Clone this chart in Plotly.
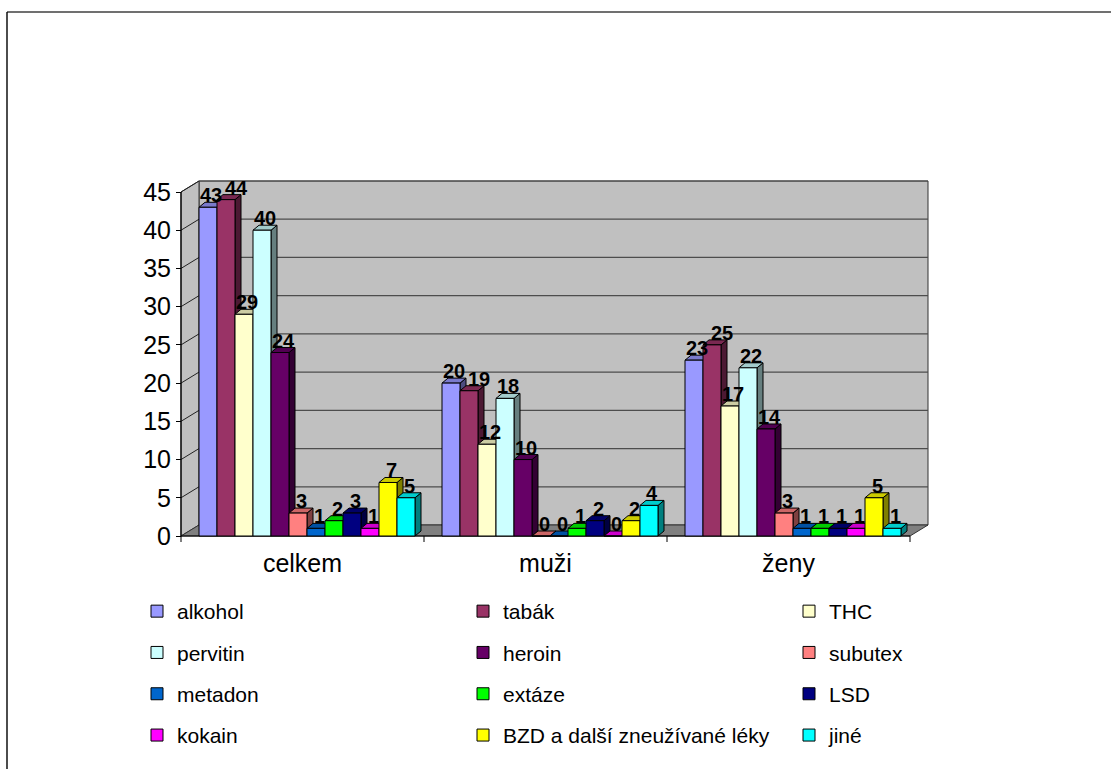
import plotly.graph_objects as go

# ---- data -------------------------------------------------------------
CATEGORIES = ["celkem", "muži", "ženy"]
SUBSTANCES = ["alkohol", "tabák", "THC", "pervitin", "heroin", "subutex",
              "metadon", "extáze", "LSD", "kokain",
              "BZD a další zneužívané léky", "jiné"]
CELKEM = [43, 44, 29, 40, 24, 3, 1, 2, 3, 1, 7, 5]
MUZI = [20, 19, 12, 18, 10, 0, 0, 1, 2, 0, 2, 4]
ZENY = [23, 25, 17, 22, 14, 3, 1, 1, 1, 1, 5, 1]
Y_TICKS = [0, 5, 10, 15, 20, 25, 30, 35, 40, 45]

COLORS = ["#9999FF", "#993366", "#FFFFCC", "#CCFFFF", "#660066", "#FF8080",
          "#0066CC", "#00FF00", "#000080", "#FF00FF", "#FFFF00", "#00FFFF"]

FONT = "Liberation Sans, Arial, sans-serif"

# ---- geometry of the pseudo-3D frame (pixels) --------------------------
W, H = 1111, 769
FRONT_L, FRONT_R = 181, 910      # front edge of the floor
Y0_PX, YMAX_PX = 536, 192        # front plane: value 0 and value 45
Y_MAX = 45
PLOT_L, PLOT_R, PLOT_T, PLOT_B = 166, 936, 174, 546
WALL_DX, WALL_DY = 18, 11        # depth of the back wall
BAR_DX, BAR_DY = 6, 5            # depth of a column
BAR_START_PX = 18                # gap from category start to the first column
BAR_W_PX = 18

LABEL_SIZE = 20
LABEL_DX, LABEL_DY = 3, 12       # default label offset from the column top
DIGIT_W = 11                     # approx. width of one bold digit

PX_X = (FRONT_R - FRONT_L) / len(CATEGORIES)
PX_Y = (Y0_PX - YMAX_PX) / Y_MAX
X_RANGE = [-0.5 - (FRONT_L - PLOT_L) / PX_X, len(CATEGORIES) - 0.5 + (PLOT_R - FRONT_R) / PX_X]
Y_RANGE = [-(PLOT_B - Y0_PX) / PX_Y, Y_MAX + (YMAX_PX - PLOT_T) / PX_Y]
PLOT_W = PLOT_R - PLOT_L
PLOT_H = PLOT_B - PLOT_T

wdx, wdy = WALL_DX / PX_X, WALL_DY / PX_Y
bdx, bdy = BAR_DX / PX_X, BAR_DY / PX_Y
bar_w = BAR_W_PX / PX_X
bar_start = -0.5 + BAR_START_PX / PX_X
x_lo, x_hi = -0.5, len(CATEGORIES) - 0.5


def paper_x(px):
    return (px - PLOT_L) / PLOT_W


def paper_y(py):
    return (PLOT_B - py) / PLOT_H


def shade(hex_color, f):
    r, g, b = (int(hex_color[i:i + 2], 16) for i in (1, 3, 5))
    return "#%02X%02X%02X" % (int(r * f), int(g * f), int(b * f))


shapes = []
# back wall with grid lines
shapes.append(dict(type="rect", xref="x", yref="y", layer="below",
                   x0=x_lo + wdx, x1=x_hi + wdx, y0=wdy, y1=Y_MAX + wdy,
                   fillcolor="#C0C0C0", line=dict(color="#333333", width=1)))
for v in Y_TICKS[1:]:
    shapes.append(dict(type="line", xref="x", yref="y", layer="below",
                       x0=x_lo + wdx, x1=x_hi + wdx, y0=v + wdy, y1=v + wdy,
                       line=dict(color="#4D4D4D", width=1.2)))
# side wall with its diagonal grid lines
shapes.append(dict(type="path", xref="x", yref="y", layer="below",
                   path=f"M{x_lo},0 L{x_lo},{Y_MAX} L{x_lo + wdx},{Y_MAX + wdy} L{x_lo + wdx},{wdy} Z",
                   fillcolor="#C0C0C0", line=dict(color="#333333", width=1)))
for v in Y_TICKS[1:]:
    shapes.append(dict(type="line", xref="x", yref="y", layer="below",
                       x0=x_lo, x1=x_lo + wdx, y0=v, y1=v + wdy,
                       line=dict(color="#222222", width=1)))
# floor
shapes.append(dict(type="path", xref="x", yref="y", layer="below",
                   path=f"M{x_lo},0 L{x_hi},0 L{x_hi + wdx},{wdy} L{x_lo + wdx},{wdy} Z",
                   fillcolor="#808080", line=dict(color="#333333", width=1)))
# front axis lines and category ticks
shapes.append(dict(type="line", xref="x", yref="y", layer="below",
                   x0=x_lo, x1=x_lo, y0=0, y1=Y_MAX, line=dict(color="black", width=1.2)))
shapes.append(dict(type="line", xref="x", yref="y", layer="below",
                   x0=x_lo, x1=x_hi, y0=0, y1=0, line=dict(color="black", width=1.2)))
for k in range(len(CATEGORIES) + 1):
    shapes.append(dict(type="line", xref="x", yref="y", layer="below",
                       x0=x_lo + k, x1=x_lo + k, y0=0, y1=-6 / PX_Y,
                       line=dict(color="black", width=1)))

series_by_cat = [CELKEM, MUZI, ZENY]

# column side and top faces, left to right so nearer faces overlap correctly
for c, values in enumerate(series_by_cat):
    for i, v in enumerate(values):
        xl = c + bar_start + i * bar_w
        xr = xl + bar_w
        col = COLORS[i]
        shapes.append(dict(type="path", xref="x", yref="y", layer="below",
                           path=f"M{xr},0 L{xr + bdx},{bdy} L{xr + bdx},{v + bdy} L{xr},{v} Z",
                           fillcolor=shade(col, 0.5), line=dict(color="black", width=1)))
        shapes.append(dict(type="path", xref="x", yref="y", layer="below",
                           path=f"M{xl},{v} L{xr},{v} L{xr + bdx},{v + bdy} L{xl + bdx},{v + bdy} Z",
                           fillcolor=shade(col, 0.8), line=dict(color="black", width=1)))

# outer chart frame
shapes.append(dict(type="line", xref="paper", yref="paper", layer="above",
                   x0=paper_x(7), x1=paper_x(W), y0=paper_y(12), y1=paper_y(12),
                   line=dict(color="#404040", width=1.6)))
shapes.append(dict(type="line", xref="paper", yref="paper", layer="above",
                   x0=paper_x(7), x1=paper_x(7), y0=paper_y(12), y1=paper_y(H + 5),
                   line=dict(color="black", width=1.4)))

fig = go.Figure()
legend_names = ["legend", "legend2", "legend3"]
for i, name in enumerate(SUBSTANCES):
    fig.add_trace(go.Bar(
        x=list(range(len(CATEGORIES))),
        y=[vals[i] for vals in series_by_cat],
        name=name,
        width=bar_w,
        offset=bar_start + i * bar_w,
        marker=dict(color=COLORS[i], line=dict(color="black", width=1)),
        legend=legend_names[i % 3],
        legendgroup=name,
        hoverinfo="skip",
    ))

# value labels; a label that would collide with an earlier one in the same
# cluster is nudged to the right until it is clear
annotations = []
label_h = LABEL_SIZE * 0.8
for c, values in enumerate(series_by_cat):
    placed = []
    for i, v in enumerate(values):
        text = str(v)
        cx = (c + bar_start + (i + 0.5) * bar_w - x_lo) * PX_X + LABEL_DX
        cy = -v * PX_Y - LABEL_DY
        w = len(text) * DIGIT_W + 2
        shift = 0.0
        moved = True
        while moved:
            moved = False
            for (px, py, pw) in placed:
                if abs(cy - py) < label_h and abs(cx + shift - px) < (w + pw) / 2:
                    shift = px + (w + pw) / 2 - cx + 1
                    moved = True
        placed.append((cx + shift, cy, w))
        annotations.append(dict(
            x=c + bar_start + (i + 0.5) * bar_w, y=v, xref="x", yref="y",
            text=text, showarrow=False, xanchor="center", yanchor="middle",
            xshift=LABEL_DX + shift, yshift=LABEL_DY,
            font=dict(family=FONT, size=LABEL_SIZE, color="black", weight="bold"),
        ))

legend_style = dict(xanchor="left", yanchor="top", orientation="v",
                    traceorder="grouped", tracegroupgap=11,
                    bgcolor="rgba(0,0,0,0)", borderwidth=0,
                    font=dict(family=FONT, size=21, color="black"))
col_text_px = [177, 503, 829]
legend_top_px = 591

fig.update_layout(
    width=W, height=H,
    margin=dict(l=PLOT_L, r=W - PLOT_R, t=PLOT_T, b=H - PLOT_B, autoexpand=False),
    paper_bgcolor="white", plot_bgcolor="white",
    barmode="overlay",
    font=dict(family=FONT, color="black"),
    showlegend=True,
    shapes=shapes,
    annotations=annotations,
    xaxis=dict(range=X_RANGE, tickmode="array", tickvals=list(range(len(CATEGORIES))),
               ticktext=CATEGORIES, showgrid=False, zeroline=False, showline=False,
               ticks="", tickfont=dict(family=FONT, size=25, color="black"), fixedrange=True),
    yaxis=dict(range=Y_RANGE, tickmode="array", tickvals=Y_TICKS, showgrid=False,
               zeroline=False, showline=False, ticks="outside", ticklen=5,
               tickcolor="black", tickwidth=1, anchor="free",
               position=paper_x(FRONT_L), tickfont=dict(family=FONT, size=25, color="black"),
               fixedrange=True),
)
for k, lname in enumerate(legend_names):
    fig.update_layout({lname: dict(legend_style, x=paper_x(col_text_px[k] - 40),
                                   y=paper_y(legend_top_px))})

fig.write_html("out.html")
